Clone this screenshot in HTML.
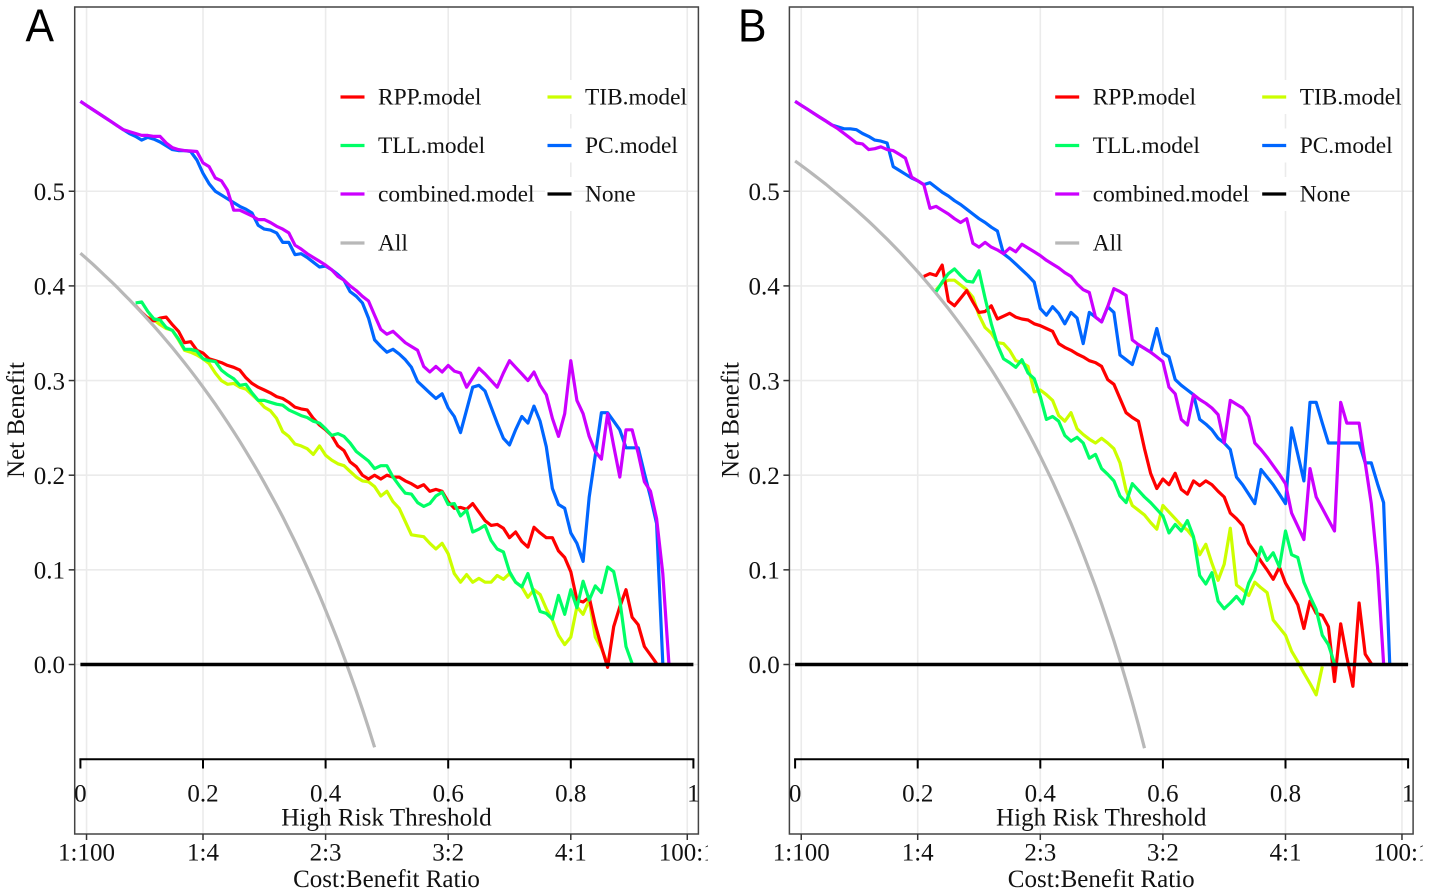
<!DOCTYPE html>
<html lang="en">
<head>
<meta charset="utf-8">
<title>Decision curve analysis, panels A and B</title>
<style>
html,body{margin:0;padding:0;background:#fff;width:1430px;height:894px;overflow:hidden}
svg{display:block}
text{font-family:"Liberation Serif","Times New Roman",serif;fill:#111}
.panel-letter{font-family:"Liberation Sans",Arial,sans-serif;font-size:46px;fill:#000}
</style>
</head>
<body>
<svg id="figure" xmlns="http://www.w3.org/2000/svg" width="1430" height="894" viewBox="0 0 1430 894"></svg>
<script>
// ---------- shared axis data ----------
const thresholdTicks = [0, 0.2, 0.4, 0.6, 0.8, 1];
const thresholdLabels = ['0', '0.2', '0.4', '0.6', '0.8', '1'];
const ratioTicks = [0.01, 0.2, 0.4, 0.6, 0.8, 0.99];
const ratioLabels = ['1:100', '1:4', '2:3', '3:2', '4:1', '100:1'];
const benefitTicks = [0, 0.1, 0.2, 0.3, 0.4, 0.5];
const benefitLabels = ['0.0', '0.1', '0.2', '0.3', '0.4', '0.5'];
const sampleStep = 0.01;

// ---------- panel A net benefit readings ----------
const rppAStart = 0.09;
const rppA = [.379,.372,.366,.363,.366,.367,.359,.352,.340,.341,.332,.329,.323,.321,.319,.316,.314,.311,.303,.297,.293,.290,.287,.283,.281,.277,.272,.270,.269,.260,.253,.248,.242,.231,.226,.214,.209,.200,.196,.200,.196,.200,.198,.198,.194,.191,.187,.190,.183,.185,.183,.172,.165,.166,.164,.170,.161,.152,.147,.148,.144,.134,.140,.130,.124,.145,.139,.134,.134,.120,.113,.098,.068,.066,.071,.042,.019,-.003,.040,.061,.079,.050,.042,.019,.010,.001];
const tllAStart = 0.09;
const tllA = [.382,.383,.373,.365,.364,.356,.353,.344,.333,.333,.331,.323,.321,.320,.311,.306,.302,.295,.296,.287,.279,.279,.277,.275,.274,.269,.266,.263,.261,.257,.255,.249,.242,.244,.241,.234,.225,.220,.215,.207,.210,.210,.198,.189,.181,.180,.171,.167,.170,.178,.182,.169,.170,.157,.163,.140,.143,.147,.131,.122,.119,.098,.087,.082,.096,.075,.056,.054,.048,.073,.053,.079,.060,.088,.068,.083,.076,.103,.098,.068,.019,.001];
const combinedAStart = 0;
const combinedA = [.595,.5907,.5864,.5821,.5779,.5736,.5693,.565,.563,.561,.559,.559,.558,.558,.551,.546,.544,.543,.5425,.542,.530,.526,.514,.511,.501,.480,.480,.477,.474,.470,.470,.467,.463,.460,.456,.443,.439,.434,.430,.426,.422,.417,.410,.406,.400,.395,.389,.384,.369,.354,.349,.352,.346,.340,.336,.332,.315,.309,.315,.309,.316,.310,.308,.293,.303,.313,.307,.300,.293,.308,.321,.314,.307,.300,.309,.295,.285,.260,.241,.265,.321,.279,.265,.241,.225,.217,.265,.231,.198,.248,.248,.223,.193,.183,.154,.096,.001];
const tibAStart = 0.11;
const tibA = [.367,.364,.359,.355,.353,.343,.332,.330,.327,.323,.318,.308,.300,.296,.297,.293,.291,.285,.279,.272,.268,.260,.246,.241,.233,.231,.228,.222,.231,.221,.216,.212,.210,.204,.198,.194,.193,.188,.178,.183,.172,.165,.151,.137,.136,.135,.128,.122,.128,.117,.096,.087,.095,.087,.091,.087,.087,.094,.090,.096,.087,.082,.071,.079,.074,.059,.047,.031,.021,.029,.061,.053,.068,.029,.017,.001];
const pcAStart = 0;
const pcA = [.595,.5907,.5864,.5821,.5779,.5736,.5693,.565,.561,.558,.554,.557,.555,.552,.548,.544,.543,.543,.542,.533,.519,.508,.500,.496,.492,.488,.484,.481,.477,.464,.460,.459,.456,.446,.446,.433,.434,.430,.425,.420,.421,.417,.412,.406,.394,.389,.382,.366,.343,.336,.330,.333,.328,.322,.314,.299,.293,.287,.281,.286,.271,.262,.245,.269,.293,.295,.289,.272,.255,.239,.232,.248,.262,.255,.273,.257,.230,.186,.169,.165,.139,.128,.109,.177,.221,.266,.266,.257,.248,.229,.229,.229,.202,.177,.149,.001];
const allAStart = 0;
const allA = [.4345,.4288,.4230,.4170,.4109,.4048,.3984,.3919,.3853,.3786,.3717,.3646,.3574,.3500,.3424,.3347,.3268,.3187,.3104,.3018,.2931,.2842,.2750,.2656,.2559,.2460,.2358,.2253,.2146,.2035,.1921,.1804,.1684,.1560,.1432,.1300,.1164,.1024,.0879,.0730,.0575,.0415,.0250,.0079,-.0098,-.0282,-.0472,-.0670,-.0875];

// ---------- panel B net benefit readings ----------
const rppBStart = 0.21;
const rppB = [.410,.413,.411,.422,.384,.379,.387,.395,.383,.372,.373,.379,.365,.368,.371,.367,.365,.364,.360,.358,.355,.352,.339,.335,.332,.328,.325,.321,.319,.315,.301,.296,.281,.266,.261,.257,.228,.202,.186,.196,.190,.202,.185,.180,.194,.189,.194,.190,.183,.177,.160,.154,.147,.128,.119,.109,.100,.090,.103,.086,.075,.063,.038,.067,.054,.052,.040,-.018,.043,.008,-.023,.065,.011,.001];
const tllBStart = 0.23;
const tllB = [.394,.404,.413,.418,.411,.405,.404,.416,.387,.360,.338,.323,.319,.314,.322,.308,.302,.283,.259,.262,.257,.242,.236,.240,.234,.218,.222,.207,.201,.194,.178,.171,.191,.184,.177,.171,.164,.157,.139,.148,.141,.152,.135,.094,.085,.097,.067,.059,.065,.072,.064,.086,.099,.124,.110,.118,.103,.141,.116,.113,.087,.072,.058,.031,.021,.001];
const combinedBStart = 0;
const combinedB = [.595,.5908,.5867,.5825,.5783,.5742,.570,.566,.561,.556,.551,.550,.544,.545,.547,.544,.543,.539,.535,.515,.511,.507,.482,.484,.480,.476,.471,.467,.471,.445,.441,.446,.441,.438,.434,.440,.436,.444,.440,.436,.432,.427,.423,.419,.414,.410,.402,.396,.393,.367,.362,.378,.397,.394,.390,.343,.338,.334,.330,.325,.320,.293,.286,.259,.253,.285,.280,.276,.271,.264,.234,.279,.275,.271,.262,.234,.227,.219,.210,.201,.191,.160,.146,.132,.207,.177,.165,.153,.141,.277,.255,.255,.255,.213,.170,.103,.001];
const tibBStart = 0.23;
const tibB = [.396,.403,.406,.406,.401,.396,.388,.369,.356,.350,.340,.339,.332,.321,.319,.315,.288,.290,.285,.279,.263,.257,.266,.249,.243,.238,.234,.239,.234,.228,.213,.184,.168,.163,.158,.150,.143,.168,.161,.154,.147,.142,.134,.116,.127,.107,.089,.106,.144,.084,.079,.073,.087,.081,.076,.047,.039,.031,.014,.003,-.009,-.020,-.032,-.002];
const pcBStart = 0;
const pcB = [.595,.5908,.5867,.5825,.5783,.5742,.570,.568,.566,.566,.565,.561,.558,.554,.553,.551,.526,.522,.518,.514,.511,.507,.509,.504,.499,.495,.490,.486,.481,.476,.471,.467,.462,.458,.434,.429,.423,.417,.411,.404,.376,.369,.378,.371,.360,.372,.366,.339,.372,.367,.362,.378,.372,.327,.322,.317,.338,.334,.330,.355,.329,.325,.301,.295,.290,.285,.259,.254,.248,.239,.234,.227,.198,.190,.180,.170,.206,.198,.190,.180,.170,.250,.222,.194,.277,.277,.255,.234,.234,.234,.234,.234,.234,.213,.213,.191,.171,.001];
const allBStart = 0;
const allB = [.532,.5273,.5225,.5175,.5125,.5074,.5021,.4968,.4913,.4857,.4800,.4742,.4682,.4621,.4558,.4494,.4428,.4362,.4293,.4222,.4150,.4076,.4000,.3922,.3842,.3760,.3675,.3589,.3500,.3408,.3314,.3217,.3118,.3015,.2909,.2800,.2688,.2571,.2452,.2328,.2200,.2068,.1931,.1789,.1643,.1491,.1333,.1170,.1000,.0824,.0640,.0449,.0250,.0042,-.0174,-.0400,-.0636,-.0884];

// ---------- legend / series styling ----------
const legendNames = ['RPP.model', 'TLL.model', 'combined.model', 'All', 'TIB.model', 'PC.model', 'None'];
const legendColors = ['#ff0000', '#00ff66', '#cc00ff', '#b8b8b8', '#ccff00', '#0066ff', '#000000'];
const noneThresholds = [0, 1];
const noneValues = [0, 0];

const NS = 'http://www.w3.org/2000/svg';
const figure = document.getElementById('figure');

function make(parent, tag, attrs, content) {
  const el = document.createElementNS(NS, tag);
  for (const key in attrs) el.setAttribute(key, attrs[key]);
  if (content !== undefined) el.textContent = content;
  parent.appendChild(el);
  return el;
}

function sampled(start, values) {
  return values.map((v, i) => [start + i * sampleStep, v]);
}
function paired(thresholds, values) {
  return values.map((v, i) => [thresholds[i], v]);
}

function drawPanel(id, letter, shift, curves) {
  const xAt = t => shift + 80.4 + t * 613;
  const yAt = v => 664.5 - v * 946.5;
  const left = shift + 74.7, right = shift + 698.4, top = 7, bottom = 834;

  const panel = make(figure, 'g', {});
  
  

  const clip = make(panel, 'clipPath', { id: 'labels-clip-' + id });
  make(clip, 'rect', { x: left, y: 0, width: right - left, height: 894 });
  const ratioClip = make(panel, 'clipPath', { id: 'ratio-clip-' + id });
  make(ratioClip, 'rect', { x: shift, y: 830, width: 708, height: 64 });

  // grid
  const grid = make(panel, 'g', { stroke: '#ebebeb', 'stroke-width': 1.6 });
  
  
  ratioTicks.forEach(t => {
    const line = make(grid, 'line', { x1: xAt(t), x2: xAt(t), y1: top, y2: bottom });
    
    
  });
  benefitTicks.forEach(v => {
    const line = make(grid, 'line', { x1: left, x2: right, y1: yAt(v), y2: yAt(v) });
    
    
  });

  // series
  curves.forEach(curve => {
    const pts = curve.points.map(p => xAt(p[0]).toFixed(1) + ',' + yAt(p[1]).toFixed(1)).join(' ');
    const line = make(panel, 'polyline', {
      points: pts, fill: 'none', stroke: curve.color,
      'stroke-width': curve.width, 'stroke-linejoin': 'round', 'stroke-linecap': 'butt'
    });
    
    
  });

  // frame
  const frame = make(panel, 'rect', { x: left, y: top, width: right - left, height: bottom - top, fill: 'none', stroke: '#444', 'stroke-width': 1.5 });
  
  

  // y axis
  benefitTicks.forEach((v, i) => {
    const tick = make(panel, 'line', { x1: left - 6, x2: left, y1: yAt(v), y2: yAt(v), stroke: '#333', 'stroke-width': 1.5 });
    
    
    const label = make(panel, 'text', { x: shift + 65, y: yAt(v) + 8.7, 'text-anchor': 'end', 'font-size': 25 }, benefitLabels[i]);
    
    
  });
  const yTitle = make(panel, 'text', { transform: 'translate(' + (shift + 24) + ' 420) rotate(-90)', 'text-anchor': 'middle', 'font-size': 25 }, 'Net Benefit');
  
  

  // threshold axis inside the panel
  const axisLine = make(panel, 'line', { x1: xAt(0) - 1, x2: xAt(1) + 1, y1: 759.3, y2: 759.3, stroke: '#000', 'stroke-width': 2 });
  
  
  thresholdTicks.forEach((t, i) => {
    const tick = make(panel, 'line', { x1: xAt(t), x2: xAt(t), y1: 759.3, y2: 768.5, stroke: '#000', 'stroke-width': 2 });
    
    
    const label = make(panel, 'text', { x: xAt(t), y: 801.7, 'text-anchor': 'middle', 'font-size': 25, 'clip-path': 'url(#labels-clip-' + id + ')' }, thresholdLabels[i]);
    
    
  });
  const thresholdTitle = make(panel, 'text', { x: shift + 386.5, y: 825.7, 'text-anchor': 'middle', 'font-size': 25.15 }, 'High Risk Threshold');
  
  

  // cost:benefit axis
  ratioTicks.forEach((t, i) => {
    const tick = make(panel, 'line', { x1: xAt(t), x2: xAt(t), y1: bottom, y2: bottom + 6, stroke: '#333', 'stroke-width': 1.5 });
    
    
    const label = make(panel, 'text', { x: xAt(t), y: 860.3, 'text-anchor': 'middle', 'font-size': 25, 'clip-path': 'url(#ratio-clip-' + id + ')' }, ratioLabels[i]);
    
    
  });
  const ratioTitle = make(panel, 'text', { x: shift + 386.5, y: 887, 'text-anchor': 'middle', 'font-size': 25 }, 'Cost:Benefit Ratio');
  
  

  // legend
  const legend = make(panel, 'g', {});
  
  
  const rowY = [97, 145.5, 194, 243];
  const keyX = [340.5, 547.5];
  const textX = [378, 585];
  legendNames.forEach((name, i) => {
    const col = i < 4 ? 0 : 1;
    const y = rowY[col === 0 ? i : i - 4];
    const entry = make(legend, 'g', {});
    
    
    make(entry, 'rect', { x: shift + keyX[col] - 2.5, y: y - 17, width: 29, height: 34, fill: '#fff' });
    make(entry, 'line', { x1: shift + keyX[col], x2: shift + keyX[col] + 24, y1: y, y2: y, stroke: legendColors[i], 'stroke-width': 3.2 });
    make(entry, 'text', { x: shift + textX[col], y: y + 7.5, 'font-size': 23.4 }, name);
  });

  const letterX = letter === 'B' ? shift + 23.3 : shift + 25.5;
  const letterEl = make(panel, 'text', { class: 'panel-letter', transform: 'translate(' + letterX + ' 41.7) scale(0.93 1)' }, letter);
  
  
}

drawPanel('a', 'A', 0, [
  { name: 'tib', color: legendColors[4], width: 3.2, points: sampled(tibAStart, tibA) },
  { name: 'rpp', color: legendColors[0], width: 3.2, points: sampled(rppAStart, rppA) },
  { name: 'all', color: legendColors[3], width: 3.2, points: sampled(allAStart, allA) },
  { name: 'tll', color: legendColors[1], width: 3.2, points: sampled(tllAStart, tllA) },
  { name: 'pc', color: legendColors[5], width: 3.2, points: sampled(pcAStart, pcA) },
  { name: 'combined', color: legendColors[2], width: 3.2, points: sampled(combinedAStart, combinedA) },
  { name: 'none', color: legendColors[6], width: 3.4, points: paired(noneThresholds, noneValues) }
]);
drawPanel('b', 'B', 714.7, [
  { name: 'all', color: legendColors[3], width: 3.2, points: sampled(allBStart, allB) },
  { name: 'tib', color: legendColors[4], width: 3.2, points: sampled(tibBStart, tibB) },
  { name: 'rpp', color: legendColors[0], width: 3.2, points: sampled(rppBStart, rppB) },
  { name: 'tll', color: legendColors[1], width: 3.2, points: sampled(tllBStart, tllB) },
  { name: 'pc', color: legendColors[5], width: 3.2, points: sampled(pcBStart, pcB) },
  { name: 'combined', color: legendColors[2], width: 3.2, points: sampled(combinedBStart, combinedB) },
  { name: 'none', color: legendColors[6], width: 3.4, points: paired(noneThresholds, noneValues) }
]);
</script>
</body>
</html>
